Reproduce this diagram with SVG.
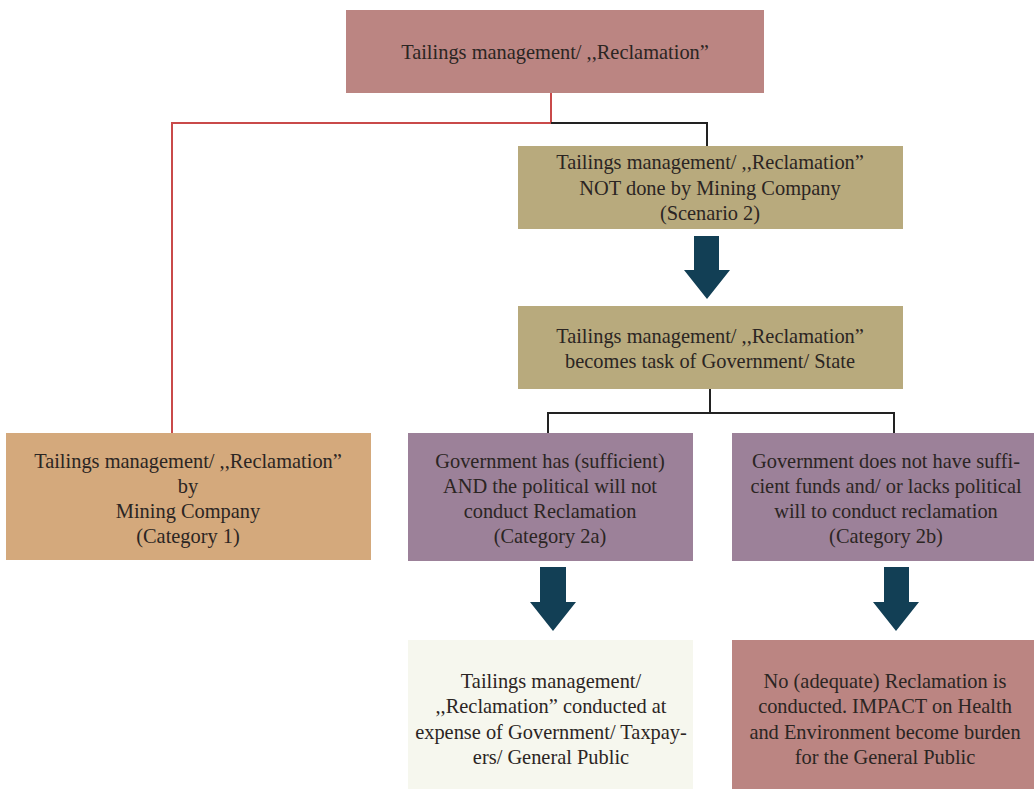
<svg xmlns="http://www.w3.org/2000/svg" width="1034" height="789" viewBox="0 0 1034 789">
<style>
text{font-family:"Liberation Serif","DejaVu Serif",serif;font-size:20.4px;fill:#2b2523;text-anchor:middle}
.rose{fill:#bb8582}.khaki{fill:#b8aa7d}.tan{fill:#d4a97c}.purple{fill:#9c8199}.pale{fill:#f6f7ee}
.red{fill:none;stroke:#c94a4a;stroke-width:2}
.blk{fill:none;stroke:#222;stroke-width:2}
.arrow{fill:#123f55}
</style>
<rect width="1034" height="789" fill="#fff"/>
<g id="connectors">
<polyline class="red" points="551,93 551,123 172,123 172,433"/>
<polyline class="blk" points="551,123 707,123 707,146"/>
<polyline class="blk" points="710,389 710,413"/>
<polyline class="blk" points="548,433 548,413 894,413 894,433"/>
<path class="arrow" d="M694,236 H719 V270 H730 L707,299 L684,270 H694 Z"/>
<path class="arrow" d="M540,567 H566 V602 H576 L553,631 L530,602 H540 Z"/>
<path class="arrow" d="M884,567 H909 V602 H919 L896,631 L873,602 H884 Z"/>
</g>
<g id="top">
<rect class="rose" x="346" y="10" width="418" height="83"/>
<text x="555" y="59">Tailings management/ ,,Reclamation”</text>
</g>
<g id="scenario2">
<rect class="khaki" x="518" y="146" width="385" height="83"/>
<text x="710" y="169">Tailings management/ ,,Reclamation”</text>
<text x="710" y="195">NOT done by Mining Company</text>
<text x="710" y="220">(Scenario 2)</text>
</g>
<g id="government">
<rect class="khaki" x="518" y="306" width="385" height="83"/>
<text x="710" y="343">Tailings management/ ,,Reclamation”</text>
<text x="710" y="368">becomes task of Government/ State</text>
</g>
<g id="cat1">
<rect class="tan" x="6" y="433" width="365" height="127"/>
<text x="188" y="468">Tailings management/ ,,Reclamation”</text>
<text x="188" y="493">by</text>
<text x="188" y="518">Mining Company</text>
<text x="188" y="543">(Category 1)</text>
</g>
<g id="cat2a">
<rect class="purple" x="408" y="433" width="285" height="128"/>
<text x="550" y="468">Government has (sufficient)</text>
<text x="550" y="493">AND the political will not</text>
<text x="550" y="518">conduct Reclamation</text>
<text x="550" y="543">(Category 2a)</text>
</g>
<g id="cat2b">
<rect class="purple" x="732" y="433" width="302" height="128"/>
<text x="886" y="468">Government does not have suffi-</text>
<text x="886" y="493">cient funds and/ or lacks political</text>
<text x="886" y="518">will to conduct reclamation</text>
<text x="886" y="543">(Category 2b)</text>
</g>
<g id="result2a">
<rect class="pale" x="408" y="640" width="285" height="149"/>
<text x="551" y="688">Tailings management/</text>
<text x="551" y="713">,,Reclamation” conducted at</text>
<text x="551" y="739">expense of Government/ Taxpay-</text>
<text x="551" y="764">ers/ General Public</text>
</g>
<g id="result2b">
<rect class="rose" x="732" y="640" width="302" height="149"/>
<text x="885" y="688">No (adequate) Reclamation is</text>
<text x="885" y="713">conducted. IMPACT on Health</text>
<text x="885" y="739">and Environment become burden</text>
<text x="885" y="764">for the General Public</text>
</g>
</svg>
